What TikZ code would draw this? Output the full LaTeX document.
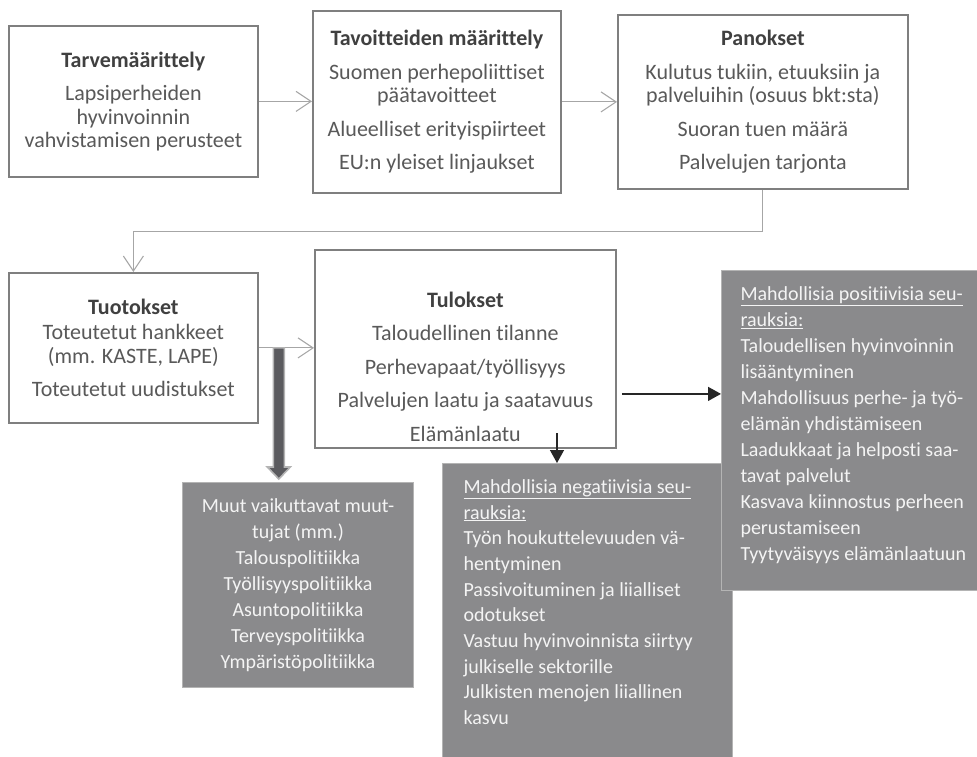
\documentclass[tikz,border=0pt]{standalone}
\usepackage{fontspec}
\setmainfont{Carlito}[Ligatures=NoCommon]
\usetikzlibrary{arrows.meta,calc}
\definecolor{boxline}{HTML}{7F7F7F}
\definecolor{bodytext}{HTML}{595959}
\definecolor{headtext}{HTML}{404040}
\definecolor{thinline}{HTML}{A6A6A6}
\definecolor{panelfill}{HTML}{8A8A8C}
\definecolor{paneledge}{HTML}{B4B4B4}
\definecolor{paneltext}{HTML}{F4F4F4}
\definecolor{darkline}{HTML}{262626}
\definecolor{bigshaft}{HTML}{5B5B5F}
\begin{document}
\begin{tikzpicture}[x=1pt,y=-1pt,
  wbox/.style={draw=boxline, line width=1.8pt, fill=white, inner sep=0pt,
    anchor=north west, text=bodytext, align=center,
    font=\fontsize{22}{23.5}\selectfont},
  gbox/.style={draw=paneledge, line width=1pt, fill=panelfill, inner sep=0pt,
    anchor=north west, text=paneltext,
    font=\fontsize{20}{26}\selectfont},
  thinarrow/.style={draw=thinline, line width=1.1pt,
    -{Straight Barb[length=15pt,width=20pt,line width=1.1pt]}},
  darkarrow/.style={draw=darkline, line width=1.3pt,
    -{Triangle[length=13pt,width=14pt]}},
  bigarrow/.style={fill=bigshaft, draw=paneledge, line width=1.6pt},
]
\useasboundingbox (0,0) rectangle (977,756);

% ---- top row ----
\node[wbox, minimum width=249pt, minimum height=151pt] (need) at (8,25)
  {\textbf{\color{headtext}Tarvemäärittely}\\[10pt]
   Lapsiperheiden\\ hyvinvoinnin\\ vahvistamisen perusteet};

\node[wbox, minimum width=248pt, minimum height=182pt] (goals) at (312,10)
  {\textbf{\color{headtext}Tavoitteiden määrittely}\\[10pt]
   Suomen perhepoliittiset\\ päätavoitteet\\[10pt]
   Alueelliset erityispiirteet\\[10pt]
   EU:n yleiset linjaukset};

\node[wbox, minimum width=290pt, minimum height=174pt] (inputs) at (617,14)
  {\textbf{\color{headtext}Panokset}\\[10pt]
   Kulutus tukiin, etuuksiin ja\\ palveluihin (osuus bkt:sta)\\[10pt]
   Suoran tuen määrä\\[10pt]
   Palvelujen tarjonta};

% ---- second row ----
\node[wbox, minimum width=249pt, minimum height=150pt] (outputs) at (8,272)
  {\textbf{\color{headtext}Tuotokset}\\[2pt]
   Toteutetut hankkeet\\ (mm. KASTE, LAPE)\\[10pt]
   Toteutetut uudistukset};

\node[wbox] (results) at (314,249)
  {\parbox[c][198pt][t]{301pt}{\centering\vspace*{42pt}%
   \textbf{\color{headtext}Tulokset}\\[10pt]
   Taloudellinen tilanne\\[10pt]
   Perhevapaat/työllisyys\\[10pt]
   Palvelujen laatu ja saatavuus\\[10pt]
   Elämänlaatu}};

% ---- grey panels ----
\node[gbox, minimum width=231pt, minimum height=205pt, align=center] (other) at (182,482)
  {Muut vaikuttavat muut-\\ tujat (mm.)\\ Talouspolitiikka\\ Työllisyyspolitiikka\\
   Asuntopolitiikka\\ Terveyspolitiikka\\ Ympäristöpolitiikka};

\node[gbox, inner xsep=21pt] (negative) at (442,463)
  {\parbox[c][296pt][t]{248pt}{\fontsize{20}{25.7}\selectfont\raggedright
   \vspace*{16pt}%
   \underline{Mahdollisia negatiivisia seu-}\\
   \underline{rauksia:}\\
   Työn houkuttelevuuden vä-\\
   hentyminen\\
   Passivoituminen ja liialliset\\
   odotukset\\
   Vastuu hyvinvoinnista siirtyy\\
   julkiselle sektorille\\
   Julkisten menojen liiallinen\\
   kasvu}};

\node[gbox, inner xsep=19pt] (positive) at (721,270)
  {\parbox[c][320pt][t]{240pt}{\fontsize{20}{26}\selectfont\raggedright
   \vspace*{16pt}%
   \underline{Mahdollisia positiivisia seu-}\\
   \underline{rauksia:}\\
   Taloudellisen hyvinvoinnin\\
   lisääntyminen\\
   Mahdollisuus perhe- ja työ-\\
   elämän yhdistämiseen\\
   Laadukkaat ja helposti saa-\\
   tavat palvelut\\
   Kasvava kiinnostus perheen\\
   perustamiseen\\
   Tyytyväisyys elämänlaatuun}};

% ---- connectors ----
\draw[thinarrow] (need.east) -- (need.east -| goals.west);
\draw[thinarrow] (goals.east) -- (goals.east -| inputs.west);
\draw[thinarrow] (inputs.south) -- ++(0,42) -| (outputs.north);
\draw[thinarrow] (outputs.east) -- (outputs.east -| results.west);

\coordinate (split) at ($(outputs.east)+(20,0)$);
\coordinate (tip) at ($(split |- other.north)+(0,-3)$);
\draw[bigarrow] ($(split)+(-5.5,0)$) -- ($(tip)+(-5.5,-12)$) -- ($(tip)+(-11.5,-12)$)
  -- (tip) -- ($(tip)+(11.5,-12)$) -- ($(tip)+(5.5,-12)$) -- ($(split)+(5.5,0)$) -- cycle;

\coordinate (posstart) at ($(results.east)+(5,45)$);
\draw[darkarrow] (posstart) -- (posstart -| positive.west);
\coordinate (negstart) at (557,433);
\draw[darkarrow] (negstart) -- (negstart |- negative.north);
\end{tikzpicture}
\end{document}
